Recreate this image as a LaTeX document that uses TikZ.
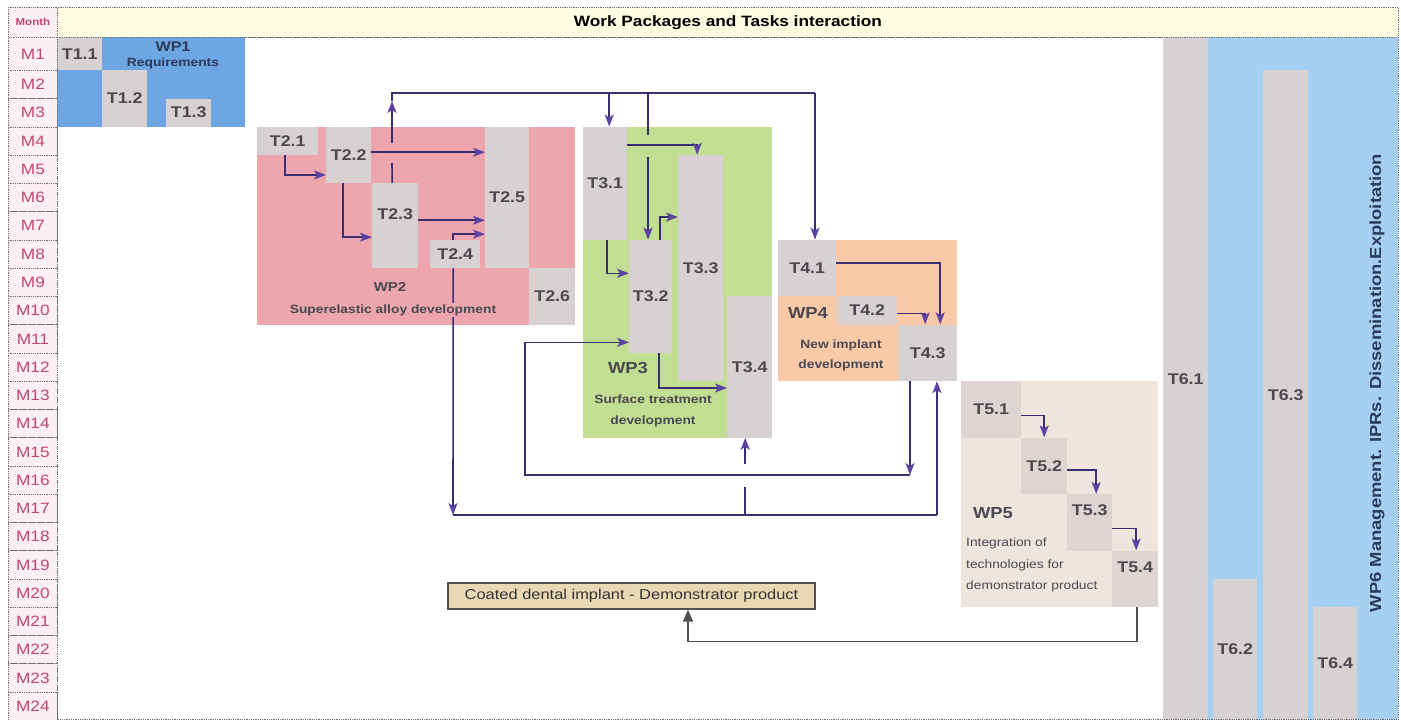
\documentclass[tikz,border=0pt]{standalone}
\usepackage{fontspec}
\setmainfont{Liberation Sans}[FakeStretch=1.15]
\usetikzlibrary{arrows.meta, positioning}

\definecolor{wpone}{RGB}{110,166,228}
\definecolor{wptwo}{RGB}{237,166,174}
\definecolor{wpthree}{RGB}{194,222,146}
\definecolor{wpfour}{RGB}{250,202,168}
\definecolor{wpfive}{RGB}{239,229,221}
\definecolor{wpsix}{RGB}{166,208,242}
\definecolor{taskgrey}{RGB}{216,209,209}
\definecolor{taskgreyfive}{RGB}{222,213,210}
\definecolor{headyellow}{RGB}{255,252,226}
\definecolor{monthpink}{RGB}{252,239,242}
\definecolor{monthtext}{RGB}{192,72,112}
\definecolor{labeltext}{RGB}{74,72,80}
\definecolor{navytext}{RGB}{44,58,90}
\definecolor{flowcol}{RGB}{58,46,114}
\definecolor{tipcol}{RGB}{92,66,162}
\definecolor{demofill}{RGB}{232,216,180}
\definecolor{outcol}{RGB}{80,80,86}
\definecolor{gridline}{RGB}{110,110,110}

\tikzstyle{monthcell} = [
  rectangle,
  anchor=north west,
  minimum width=49pt,
  inner sep=0,
  draw=gridline,
  densely dotted,
  line width=0.8pt,
  fill=monthpink,
  text=monthtext,
  font=\fontsize{15}{17}\selectfont
]
\tikzstyle{header} = [
  rectangle,
  anchor=north west,
  minimum width=1341pt,
  minimum height=30pt,
  inner sep=0,
  draw=gridline,
  densely dotted,
  line width=0.8pt,
  fill=headyellow,
  font=\fontsize{15}{17}\selectfont\bfseries
]
\tikzstyle{wpbox} = [
  rectangle,
  anchor=north west,
  inner sep=0
]
\tikzstyle{task} = [
  rectangle,
  anchor=north west,
  inner sep=0,
  fill=taskgrey,
  text=labeltext,
  font=\fontsize{15.5}{18}\selectfont\bfseries
]
\tikzstyle{lifted} = [text depth=24pt]
\tikzstyle{wpcap} = [
  text=labeltext,
  inner sep=1pt,
  font=\fontsize{16}{19}\selectfont\bfseries
]
\tikzstyle{wpsub} = [
  text=labeltext,
  align=center,
  inner sep=1pt,
  font=\fontsize{12}{21}\selectfont\bfseries
]
\tikzstyle{demo} = [
  rectangle,
  minimum width=367pt,
  minimum height=26pt,
  draw=outcol,
  line width=1.3pt,
  fill=demofill,
  text=black!80,
  font=\fontsize{14.3}{17}\selectfont
]
\tikzstyle{flowline} = [
  draw=flowcol,
  line width=1.6pt
]
\tikzstyle{flowarrow} = [
  flowline,
  -{Stealth[length=12pt, width=9pt, inset=3pt, color=tipcol]}
]
\tikzstyle{outarrow} = [
  draw=outcol,
  line width=1.6pt,
  -{Triangle[length=12pt, width=10pt]}
]

\begin{document}
\begin{tikzpicture}[x=1pt, y=-1pt]
  \useasboundingbox (0,0) rectangle (1401,720);

  % month column
  \node[monthcell, minimum height=30pt, font=\fontsize{10}{12}\selectfont\bfseries] (mhead) at (8,7) {Month};
  \node[monthcell, minimum height=33pt] (m1) at (8,37) {M1};
  \foreach \m in {2,...,24}
    \node[monthcell, minimum height=28.26pt] (m\m) at (8,{70+(\m-2)*28.26}) {M\m};
  \node[header] (head) at (57,7) {Work Packages and Tasks interaction};

  % WP1
  \node[wpbox, fill=wpone, minimum width=188pt, minimum height=89.5pt] (wp1) at (57,37) {};
  \node[task, minimum width=45pt, minimum height=33pt] (t11) at (57,37) {T1.1};
  \node[task, minimum width=45pt, minimum height=56.5pt] (t12) at (102,70) {T1.2};
  \node[task, minimum width=45pt, minimum height=28.3pt] (t13) at (166,98.3) {T1.3};

  % WP2
  \node[wpbox, fill=wptwo, minimum width=318pt, minimum height=197.8pt] (wp2) at (257,126.5) {};
  \node[task, minimum width=61pt, minimum height=28.3pt] (t21) at (257,126.5) {T2.1};
  \node[task, minimum width=45pt, minimum height=56.5pt] (t22) at (326,126.5) {T2.2};
  \node[task, lifted, minimum width=46pt, minimum height=84.8pt] (t23) at (372,183) {T2.3};
  \node[task, minimum width=50pt, minimum height=28.3pt] (t24) at (430,239.6) {T2.4};
  \node[task, minimum width=44pt, minimum height=141.3pt] (t25) at (485,126.5) {T2.5};
  \node[task, minimum width=46pt, minimum height=56.5pt] (t26) at (529,267.8) {T2.6};

  % WP3
  \node[wpbox, fill=wpthree, minimum width=189pt, minimum height=310.9pt] (wp3) at (583,126.5) {};
  \node[task, minimum width=44pt, minimum height=113pt] (t31) at (583,126.5) {T3.1};
  \node[task, minimum width=43pt, minimum height=113pt] (t32) at (629,239.6) {T3.2};
  \node[task, minimum width=45pt, minimum height=226.1pt] (t33) at (678,154.8) {T3.3};
  \node[task, minimum width=45pt, minimum height=141.3pt] (t34) at (727,296.1) {T3.4};

  % WP4
  \node[wpbox, fill=wpfour, minimum width=179pt, minimum height=141.3pt] (wp4) at (778,239.6) {};
  \node[task, minimum width=58pt, minimum height=56.5pt] (t41) at (778,239.6) {T4.1};
  \node[task, minimum width=60pt, minimum height=28.3pt] (t42) at (837,296.1) {T4.2};
  \node[task, minimum width=59pt, minimum height=56.5pt] (t43) at (898,324.3) {T4.3};

  % WP5
  \node[wpbox, fill=wpfive, minimum width=197pt, minimum height=226.1pt] (wp5) at (961,380.9) {};
  \node[task, fill=taskgreyfive, minimum width=60pt, minimum height=56.5pt] (t51) at (961,380.9) {T5.1};
  \node[task, fill=taskgreyfive, minimum width=46pt, minimum height=56.5pt] (t52) at (1021,437.4) {T5.2};
  \node[task, lifted, fill=taskgreyfive, minimum width=45pt, minimum height=56.5pt] (t53) at (1067,493.9) {T5.3};
  \node[task, lifted, fill=taskgreyfive, minimum width=46pt, minimum height=56.5pt] (t54) at (1112,550.4) {T5.4};

  % WP6
  \node[wpbox, fill=wpsix, minimum width=190pt, minimum height=683pt] (wp6) at (1208,37) {};
  \node[task, minimum width=45pt, minimum height=683pt] (t61) at (1163,37) {T6.1};
  \node[task, minimum width=44pt, minimum height=141.3pt] (t62) at (1213,578.7) {T6.2};
  \node[task, minimum width=45pt, minimum height=650pt] (t63) at (1263,70) {T6.3};
  \node[task, minimum width=44pt, minimum height=113.1pt] (t64) at (1313,606.9) {T6.4};

  % chart frame
  \draw[gridline, densely dotted, line width=0.8pt] (57,37) rectangle (1398,719.5);

  % end product
  \node[demo] (demo) at (631.5,596) {Coated dental implant - Demonstrator product};

  % flows inside WP2
  \draw[flowarrow] ([xshift=-2.5pt]t21.south) |- ([yshift=-20pt]t22.west);
  \draw[flowarrow] ([xshift=-5.5pt]t22.south) |- ([yshift=-11.6pt]t23.west);
  \draw[flowarrow] ([yshift=2.75pt]t22.east) -- ([yshift=2.75pt]t22.east -| t25.west);
  \draw[flowarrow] ([yshift=5.4pt]t23.east) -- ([yshift=5.4pt]t23.east -| t25.west);
  \draw[flowarrow] ([xshift=-2pt]t24.north) |- ([yshift=-36.8pt]t25.west);

  % upper bus from WP2 to WP3 and WP4
  \coordinate (topL) at (392,93);
  \coordinate (topR) at (815,93);
  \coordinate (crossLo) at (392,163);
  \coordinate (crossHi) at (392,143);
  \draw[flowline] ([xshift=-3pt]t23.north) -- (crossLo);
  \draw[flowarrow] (crossHi) -- ([yshift=-8pt]topL);
  \draw[flowline] ([yshift=-8pt]topL) -- (topL) -- (topR);
  \draw[flowarrow] (topR) -- (topR |- t41.north);
  \draw[flowarrow] ([xshift=4pt]t31.north |- topL) -- ([xshift=4pt]t31.north);
  \coordinate (gapTop) at (648,135);
  \coordinate (gapBot) at (648,157);
  \draw[flowline] (gapTop |- topL) -- (gapTop);
  \draw[flowarrow] (gapBot) -- (gapBot |- t32.north);

  % flows inside WP3
  \draw[flowarrow] ([yshift=38pt]t31.east) -| ([xshift=-3.5pt]t33.north);
  \draw[flowarrow] ([xshift=2pt]t31.south) |- ([yshift=23pt]t32.west);
  \draw[flowarrow] ([xshift=9.5pt]t32.north) |- ([yshift=51pt]t33.west);
  \draw[flowarrow] ([xshift=8.5pt]t32.south) |- ([yshift=-21pt]t34.west);

  % flows inside WP4
  \draw[flowarrow] ([yshift=5pt]t41.east) -| ([xshift=12.5pt]t43.north);
  \draw[flowarrow] ([yshift=-3pt]t42.east) -| ([xshift=-2.5pt]t43.north);

  % lower feedback loops
  \coordinate (lowL) at (453,515);
  \coordinate (lowR) at (937,515);
  \coordinate (feed) at (745,515);
  \coordinate (midL) at (525,475);
  \coordinate (midR) at (910,475);
  \draw[flowarrow] ([xshift=-2pt]t24.south) -- (lowL);
  \draw[flowline] (lowL) -- (lowR);
  \draw[flowarrow] (lowR) -- (lowR |- t43.south);
  \draw[flowline] (feed) -- ++(0,-28);
  \draw[flowarrow] ([xshift=-4.5pt,yshift=-26pt]t34.south) -- ([xshift=-4.5pt]t34.south);
  \draw[flowarrow] (midR |- t43.south) -- (midR);
  \draw[flowarrow] (midR) -- (midL) |- ([yshift=-46pt]t32.west);

  % flows inside WP5
  \draw[flowarrow] ([yshift=-6pt]t51.east) -| (t52.north);
  \draw[flowarrow] ([yshift=-4pt]t52.east) -| ([xshift=6.5pt]t53.north);
  \draw[flowarrow] ([yshift=-6pt]t53.east) -| ([xshift=1pt]t54.north);
  \draw[outarrow] ([xshift=2pt]t54.south) -- ++(0,34) -| ([xshift=56.5pt]demo.south);

  % work package captions
  \node[wpcap, text=navytext, font=\fontsize{14}{16}\selectfont\bfseries] (wp1cap) at (173,47) {WP1};
  \node[wpsub, text=navytext] (wp1sub) at (173,63) {Requirements};
  \node[wpcap, font=\fontsize{13}{15}\selectfont\bfseries] (wp2cap) at (390,287) {WP2};
  \node[wpsub, fill=wptwo] (wp2sub) at (393,310) {Superelastic alloy development};
  \node[wpcap] (wp3cap) at (628,368) {WP3};
  \node[wpsub] (wp3sub) at (653,411) {Surface treatment\\development};
  \node[wpcap] (wp4cap) at (808,313) {WP4};
  \node[wpsub, font=\fontsize{12}{20}\selectfont\bfseries] (wp4sub) at (841,355) {New implant\\development};
  \node[wpcap] (wp5cap) at (993,513) {WP5};
  \node[wpsub, align=left, anchor=west, font=\fontsize{12}{21.5}\selectfont] (wp5sub) at (965,565) {Integration of\\technologies for\\demonstrator product};
  \node[wpcap, text=navytext, rotate=90] (wp6cap) at (1377,383) {WP6 Management. IPRs. Dissemination.Exploitation};
\end{tikzpicture}
\end{document}
